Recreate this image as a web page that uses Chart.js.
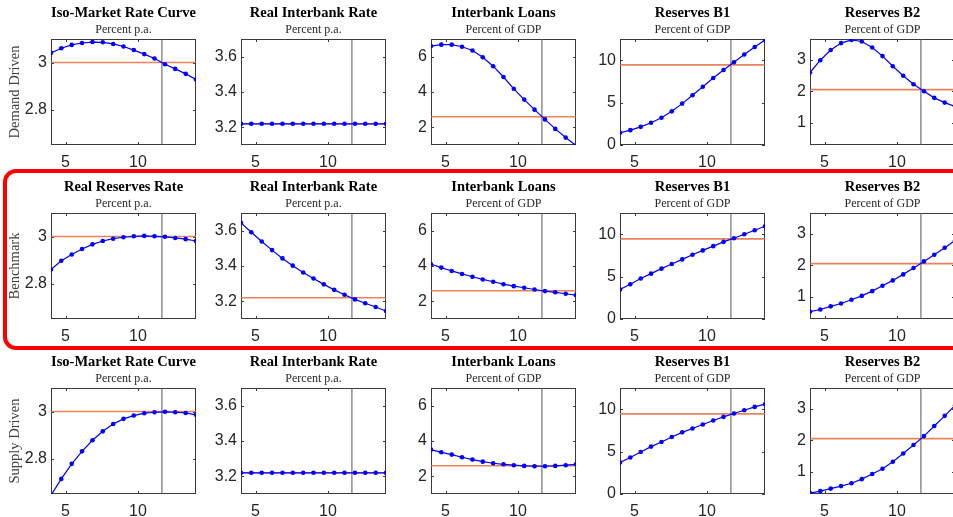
<!DOCTYPE html>
<html>
<head>
<meta charset="utf-8">
<script src="https://cdn.jsdelivr.net/npm/chart.js@4.4.1/dist/chart.umd.min.js"></script>
<style>
    html, body { margin: 0; padding: 0; background: #fff; overflow: hidden; }
    #wrap { position: relative; width: 953px; height: 517px; overflow: hidden; }
    #wrap canvas { position: absolute; }
    #bench {
        position: absolute; left: 3px; top: 169px; width: 1000px; height: 181px;
        border: 4.5px solid #ff0000; border-radius: 13px; box-sizing: border-box;
    }
</style>
</head>
<body>
<div id="wrap"><div id="bench"></div></div>
<script>
// ---- data ----
const xValues = [4, 4.71, 5.43, 6.14, 6.86, 7.57, 8.29, 9, 9.71, 10.43, 11.14, 11.86, 12.57, 13.29, 14];
const xTicks = [5, 10];
const vLine = 11.65;

const rowNames = ["Demand Driven", "Benchmark", "Supply Driven"];
const titlesTop = ["Iso-Market Rate Curve", "Real Interbank Rate", "Interbank Loans", "Reserves B1", "Reserves B2"];
const titlesMid = ["Real Reserves Rate", "Real Interbank Rate", "Interbank Loans", "Reserves B1", "Reserves B2"];
const units = ["Percent p.a.", "Percent p.a.", "Percent of GDP", "Percent of GDP", "Percent of GDP"];

const yTicks = [[2.8, 3], [3.2, 3.4, 3.6], [2, 4, 6], [0, 5, 10], [1, 2, 3]];
const yTickLabels = [["2.8", "3"], ["3.2", "3.4", "3.6"], ["2", "4", "6"], ["0", "5", "10"], ["1", "2", "3"]];
const yMin = [2.65, 3.1, 1, 0, 0.3];
const yMax = [3.1, 3.7, 7, 12.5, 3.65];
const steady = [3.0, 3.22, 2.6, 9.45, 2.05];

// Demand driven
const isoDemand   = [3.041, 3.061, 3.075, 3.083, 3.087, 3.086, 3.079, 3.068, 3.053, 3.036, 3.017, 2.993, 2.973, 2.952, 2.928];
const rateDemand  = [3.22, 3.22, 3.22, 3.22, 3.22, 3.22, 3.22, 3.22, 3.22, 3.22, 3.22, 3.22, 3.22, 3.22, 3.22];
const loansDemand = [6.6, 6.68, 6.68, 6.56, 6.35, 5.97, 5.46, 4.85, 4.18, 3.57, 3.0, 2.45, 1.91, 1.42, 0.97];
const b1Demand    = [1.43, 1.75, 2.14, 2.62, 3.21, 3.97, 4.88, 5.87, 6.87, 7.9, 8.85, 9.76, 10.67, 11.55, 12.38];
const b2Demand    = [2.59, 2.98, 3.3, 3.52, 3.62, 3.57, 3.38, 3.11, 2.79, 2.49, 2.22, 2.0, 1.79, 1.64, 1.52];

// Benchmark
const rrBench    = [2.86, 2.897, 2.924, 2.947, 2.967, 2.981, 2.991, 2.997, 3.001, 3.003, 3.001, 2.999, 2.994, 2.989, 2.981];
const rateBench  = [3.644, 3.591, 3.539, 3.49, 3.443, 3.402, 3.363, 3.329, 3.296, 3.265, 3.237, 3.211, 3.189, 3.168, 3.145];
const loansBench = [4.1, 3.91, 3.72, 3.55, 3.39, 3.24, 3.11, 2.97, 2.86, 2.77, 2.67, 2.58, 2.51, 2.43, 2.35];
const b1Bench    = [3.48, 4.1, 4.77, 5.35, 5.94, 6.48, 7.03, 7.58, 8.09, 8.59, 9.1, 9.53, 10.0, 10.47, 10.94];
const b2Bench    = [0.53, 0.6, 0.7, 0.79, 0.91, 1.03, 1.18, 1.35, 1.52, 1.71, 1.91, 2.12, 2.33, 2.55, 2.78];

// Supply driven
const isoSupply   = [2.645, 2.714, 2.778, 2.831, 2.878, 2.916, 2.947, 2.969, 2.983, 2.993, 2.997, 2.999, 2.997, 2.994, 2.986];
const rateSupply  = [3.22, 3.22, 3.22, 3.22, 3.22, 3.22, 3.22, 3.22, 3.22, 3.22, 3.22, 3.22, 3.22, 3.22, 3.22];
const loansSupply = [3.51, 3.36, 3.23, 3.08, 2.95, 2.83, 2.74, 2.68, 2.63, 2.59, 2.57, 2.57, 2.59, 2.63, 2.68];
const b1Supply    = [3.71, 4.3, 4.96, 5.59, 6.13, 6.72, 7.27, 7.73, 8.2, 8.67, 9.1, 9.49, 9.88, 10.27, 10.59];
const b2Supply    = [0.33, 0.39, 0.47, 0.55, 0.64, 0.77, 0.93, 1.1, 1.32, 1.58, 1.85, 2.13, 2.45, 2.77, 3.1];

const rows = [
    [isoDemand, rateDemand, loansDemand, b1Demand, b2Demand],
    [rrBench, rateBench, loansBench, b1Bench, b2Bench],
    [isoSupply, rateSupply, loansSupply, b1Supply, b2Supply]
];

// ---- layout ----
const plotLeft = [51, 241, 431, 620, 810];
const plotTop = [39, 213, 388];
const AXIS_W = 45, HEAD_H = 39, CW = 195, CH = 175;

// box + inward tick marks, like matlab axes
const frame = {
    id: "frame",
    beforeDatasetsDraw(chart) {
        const { ctx, chartArea: a, scales: { x, y } } = chart;
        ctx.save();
        ctx.strokeStyle = "#3a3a3a";
        ctx.lineWidth = 1;
        ctx.strokeRect(a.left + 0.5, a.top + 0.5, a.width - 1, a.height - 1);
        ctx.beginPath();
        for (const t of x.ticks) {
            const px = Math.round(x.getPixelForValue(t.value)) + 0.5;
            ctx.moveTo(px, a.top); ctx.lineTo(px, a.top + 3);
            ctx.moveTo(px, a.bottom); ctx.lineTo(px, a.bottom - 3);
        }
        for (const t of y.ticks) {
            const py = Math.round(y.getPixelForValue(t.value)) + 0.5;
            ctx.moveTo(a.left, py); ctx.lineTo(a.left + 3, py);
            ctx.moveTo(a.right, py); ctx.lineTo(a.right - 3, py);
        }
        ctx.stroke();
        ctx.restore();
    }
};

const wrap = document.getElementById("wrap");
const bench = document.getElementById("bench");

for (let r = 0; r < 3; r++) {
    for (let c = 0; c < 5; c++) {
        const cv = document.createElement("canvas");
        cv.width = CW;
        cv.height = CH;
        cv.style.left = (plotLeft[c] - AXIS_W) + "px";
        cv.style.top = (plotTop[r] - HEAD_H) + "px";
        wrap.insertBefore(cv, bench);

        const series = rows[r][c];
        const title = (r === 1 ? titlesMid : titlesTop)[c];

        new Chart(cv, {
            type: "line",
            data: {
                datasets: [
                    {
                        data: xValues.map((x, i) => ({ x, y: series[i] })),
                        borderColor: "#0000ff",
                        backgroundColor: "#0000ff",
                        borderWidth: 1.2,
                        pointRadius: 2.3,
                        pointBorderWidth: 0,
                        tension: 0
                    },
                    {
                        data: [{ x: xValues[0], y: steady[c] }, { x: xValues[14], y: steady[c] }],
                        borderColor: "rgba(226,100,50,0.8)",
                        borderWidth: 1.6,
                        pointRadius: 0
                    },
                    {
                        data: [{ x: vLine, y: yMin[c] }, { x: vLine, y: yMax[c] }],
                        borderColor: "#555555",
                        borderWidth: 1,
                        pointRadius: 0
                    }
                ]
            },
            options: {
                responsive: false,
                animation: false,
                events: [],
                layout: { padding: { top: 4.8, right: 5, left: 0, bottom: 0 } },
                plugins: {
                    legend: { display: false },
                    tooltip: { enabled: false },
                    title: {
                        display: true, text: title, fullSize: false, color: "#000",
                        font: { family: "Liberation Serif", size: 14.5, weight: "bold" },
                        padding: { top: 0, bottom: 0 }
                    },
                    subtitle: {
                        display: true, text: units[c], fullSize: false, color: "#262626",
                        font: { family: "Liberation Serif", size: 12 },
                        padding: { top: 0, bottom: 2.4 }
                    }
                },
                scales: {
                    x: {
                        type: "linear", min: xValues[0], max: xValues[14],
                        grid: { display: false, drawTicks: false },
                        border: { display: false },
                        afterBuildTicks: s => { s.ticks = xTicks.map(v => ({ value: v })); },
                        afterFit: s => { s.height = CH - HEAD_H - 106; },
                        ticks: {
                            padding: 7.5, color: "#262626", maxRotation: 0, autoSkip: false,
                            font: { family: "Liberation Sans", size: 16 },
                            callback: v => String(v)
                        }
                    },
                    y: {
                        min: yMin[c], max: yMax[c],
                        grid: { display: false, drawTicks: false },
                        border: { display: false },
                        afterBuildTicks: s => { s.ticks = yTicks[c].map(v => ({ value: v })); },
                        afterFit: s => { s.width = AXIS_W; },
                        ticks: {
                            padding: 4, color: "#262626",
                            font: { family: "Liberation Sans", size: 16 },
                            callback: (v, i) => yTickLabels[c][i]
                        },
                        title: {
                            display: c === 0, text: rowNames[r], color: "#404040",
                            font: { family: "Liberation Serif", size: 14.5 },
                            padding: { top: 0.5, bottom: 0 }
                        }
                    }
                }
            },
            plugins: [frame]
        });
    }
}
</script>
</body>
</html>
